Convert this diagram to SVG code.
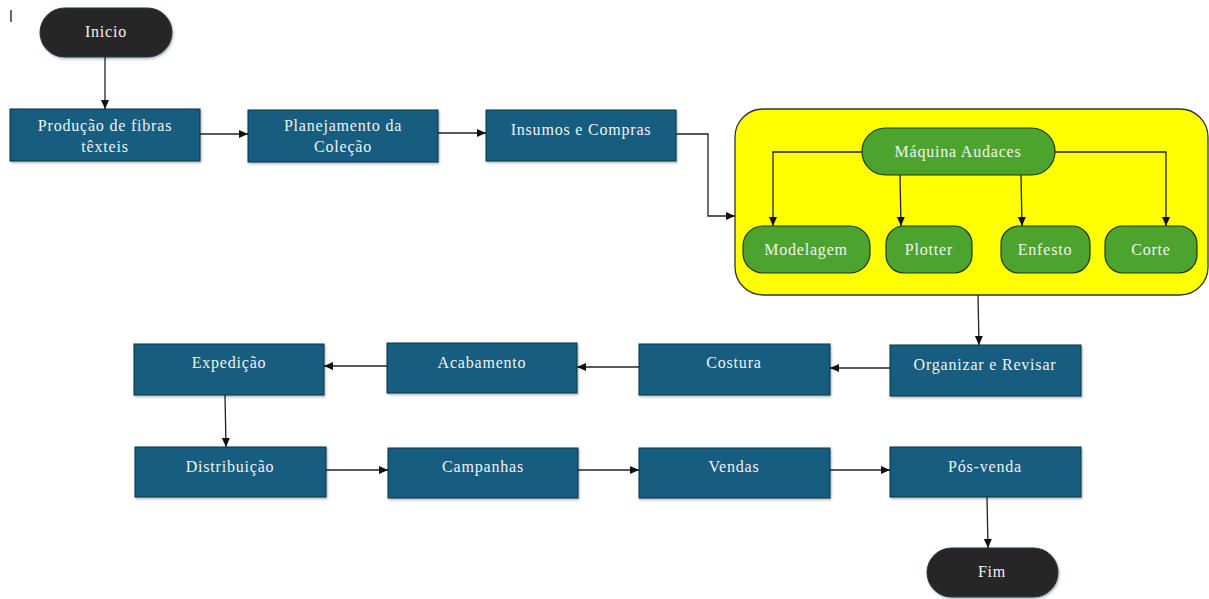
<svg xmlns="http://www.w3.org/2000/svg" width="1209" height="599" viewBox="0 0 1209 599">
<style>
.box{fill:#175d7f;stroke:#0d3447;stroke-width:1}
.pill{fill:#262626;stroke:#1a3a4a;stroke-width:1}
.grn{fill:#4ca42f;stroke:#1e3a12;stroke-width:1.2}
.t{font-family:"Liberation Serif","DejaVu Serif",serif;font-size:16px;letter-spacing:0.8px;fill:#f2f2f2;text-anchor:middle}
.c{fill:none;stroke:#222;stroke-width:1.3}
</style>
<defs>
<marker id="ah" markerWidth="10" markerHeight="10" refX="9" refY="5" orient="auto" markerUnits="userSpaceOnUse">
<path d="M0,1 L9,5 L0,9 Z" fill="#111"/>
</marker>
<filter id="sh" x="-5%" y="-5%" width="110%" height="120%">
<feDropShadow dx="1" dy="1.5" stdDeviation="1" flood-color="#000" flood-opacity="0.3"/>
</filter>
</defs>
<rect width="1209" height="599" fill="#fff"/>
<line x1="11" y1="10" x2="11" y2="22" stroke="#333" stroke-width="1.5"/>

<g id="inicio"><rect class="pill" x="40" y="8" width="132" height="49" rx="24.5" filter="url(#sh)"/><text class="t" x="106" y="37">Inicio</text></g>

<g id="producao"><rect class="box" x="10" y="109" width="190" height="52" filter="url(#sh)"/><text class="t" x="105" y="131">Produção de fibras</text><text class="t" x="105" y="152">têxteis</text></g>
<g id="planejamento"><rect class="box" x="248" y="110" width="190" height="52" filter="url(#sh)"/><text class="t" x="343" y="131">Planejamento da</text><text class="t" x="343" y="152">Coleção</text></g>
<g id="insumos"><rect class="box" x="486" y="110" width="190" height="51" filter="url(#sh)"/><text class="t" x="581" y="135">Insumos e Compras</text></g>

<g id="audaces-area">
<rect x="735" y="109" width="473" height="186" rx="28" fill="#ffff00" stroke="#333" stroke-width="1.3"/>
</g>
<g id="maquina"><rect class="grn" x="862" y="128" width="193" height="47" rx="23.5"/><text class="t" x="958" y="157">Máquina Audaces</text></g>
<g id="modelagem"><rect class="grn" x="743" y="226" width="127" height="47" rx="20"/><text class="t" x="806" y="255">Modelagem</text></g>
<g id="plotter"><rect class="grn" x="886" y="226" width="86" height="47" rx="18"/><text class="t" x="929" y="255">Plotter</text></g>
<g id="enfesto"><rect class="grn" x="1001" y="226" width="89" height="47" rx="18"/><text class="t" x="1045" y="255">Enfesto</text></g>
<g id="corte"><rect class="grn" x="1105" y="226" width="92" height="47" rx="18"/><text class="t" x="1151" y="255">Corte</text></g>

<g id="organizar"><rect class="box" x="890" y="345" width="191" height="51" filter="url(#sh)"/><text class="t" x="985" y="370">Organizar e Revisar</text></g>
<g id="costura"><rect class="box" x="639" y="344" width="191" height="51" filter="url(#sh)"/><text class="t" x="734" y="368">Costura</text></g>
<g id="acabamento"><rect class="box" x="387" y="343" width="190" height="50" filter="url(#sh)"/><text class="t" x="482" y="368">Acabamento</text></g>
<g id="expedicao"><rect class="box" x="134" y="344" width="190" height="51" filter="url(#sh)"/><text class="t" x="229" y="368">Expedição</text></g>
<g id="distribuicao"><rect class="box" x="135" y="447" width="191" height="50" filter="url(#sh)"/><text class="t" x="230" y="472">Distribuição</text></g>
<g id="campanhas"><rect class="box" x="388" y="448" width="190" height="50" filter="url(#sh)"/><text class="t" x="483" y="472">Campanhas</text></g>
<g id="vendas"><rect class="box" x="639" y="448" width="191" height="50" filter="url(#sh)"/><text class="t" x="734" y="472">Vendas</text></g>
<g id="posvenda"><rect class="box" x="890" y="447" width="191" height="50" filter="url(#sh)"/><text class="t" x="985" y="472">Pós-venda</text></g>

<g id="fim"><rect class="pill" x="927" y="548" width="131" height="49" rx="24.5" filter="url(#sh)"/><text class="t" x="992" y="577">Fim</text></g>

<g id="connectors">
<path class="c" d="M105,57 V109" marker-end="url(#ah)"/>
<path class="c" d="M200,134 H248" marker-end="url(#ah)"/>
<path class="c" d="M438,133 H486" marker-end="url(#ah)"/>
<path class="c" d="M676,134 H708 V216 H735" marker-end="url(#ah)"/>
<path class="c" d="M862,152 H773 V226" marker-end="url(#ah)"/>
<path class="c" d="M900,175 L901,226" marker-end="url(#ah)"/>
<path class="c" d="M1021,175 L1022,226" marker-end="url(#ah)"/>
<path class="c" d="M1055,152 H1166 V226" marker-end="url(#ah)"/>
<path class="c" d="M978,295 L979,345" marker-end="url(#ah)"/>
<path class="c" d="M890,368 H830" marker-end="url(#ah)"/>
<path class="c" d="M639,367 H577" marker-end="url(#ah)"/>
<path class="c" d="M387,366 H324" marker-end="url(#ah)"/>
<path class="c" d="M225,395 L226,447" marker-end="url(#ah)"/>
<path class="c" d="M326,470 H388" marker-end="url(#ah)"/>
<path class="c" d="M578,470 H639" marker-end="url(#ah)"/>
<path class="c" d="M830,470 H890" marker-end="url(#ah)"/>
<path class="c" d="M987,497 L988,548" marker-end="url(#ah)"/>
</g>
</svg>
